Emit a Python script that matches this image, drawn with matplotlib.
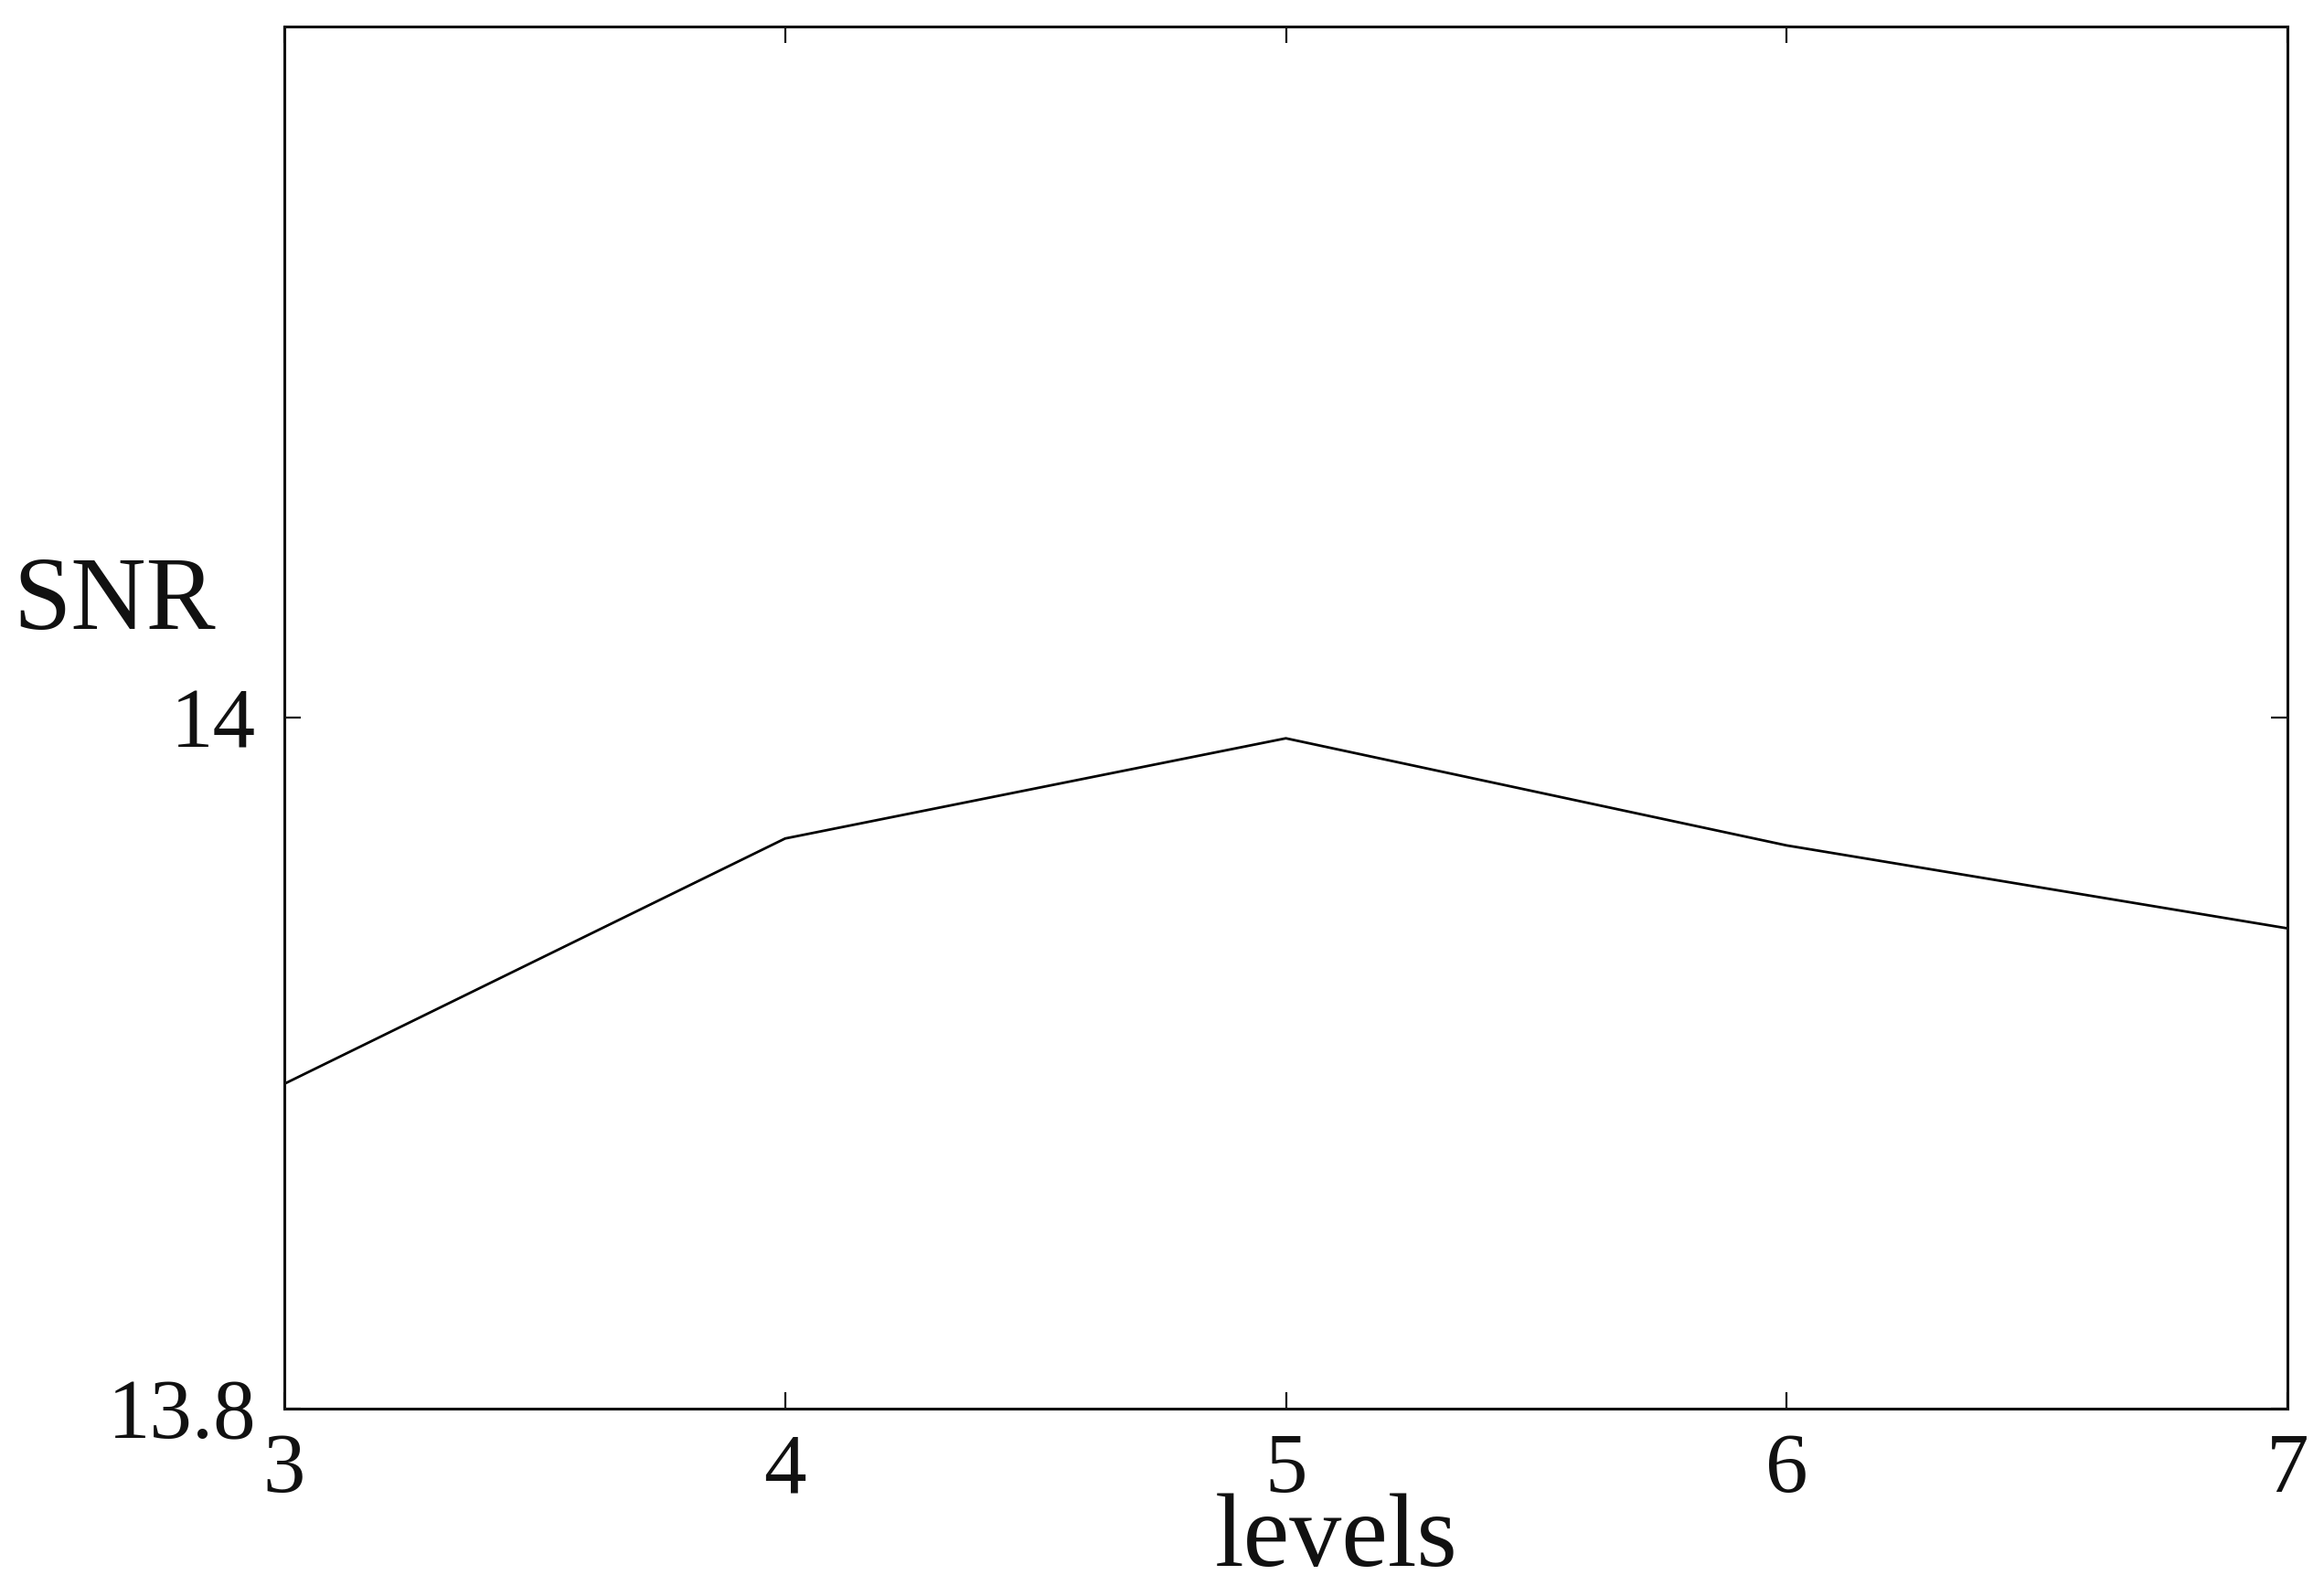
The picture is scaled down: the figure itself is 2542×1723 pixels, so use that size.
import matplotlib
matplotlib.use("Agg")
import matplotlib.pyplot as plt

levels = [3, 4, 5, 6, 7]
snr = [13.894, 13.965, 13.994, 13.963, 13.939]
xticks = [3, 4, 5, 6, 7]
yticks = [13.8, 14.0]
ytick_labels = ["13.8", "14"]

plt.rcParams['font.family'] = ['Liberation Serif', 'DejaVu Serif']

W, H = 2542, 1723
fig = plt.figure(figsize=(W / 100, H / 100), dpi=100)
ax = fig.add_axes([311 / W, 1 - 1541 / H, (2502 - 311) / W, (1541 - 29) / H])

ax.plot(levels, snr, color='black', linewidth=2.0)
ax.set_xlim(3, 7)
ax.set_ylim(13.8, 14.2)
ax.set_xticks(xticks)
ax.set_xticklabels([str(v) for v in xticks])
ax.set_yticks(yticks)
ax.set_yticklabels(ytick_labels)

for s in ax.spines.values():
    s.set_linewidth(2.2)
    s.set_color('#111111')

ax.tick_params(axis='both', which='major', direction='in', length=13, width=1.6,
               top=True, right=True, labelsize=67, colors='#111111')
ax.tick_params(axis='x', pad=19)
ax.tick_params(axis='y', pad=22)

fig.text(1462 / W, 1 - 1713 / H, "levels", ha='center', va='baseline', fontsize=82, color='#111111')
fig.text(14 / W, 1 - 688 / H, "SNR", ha='left', va='baseline', fontsize=82, color='#111111')

fig.savefig("out.png", dpi=100, facecolor='white')
